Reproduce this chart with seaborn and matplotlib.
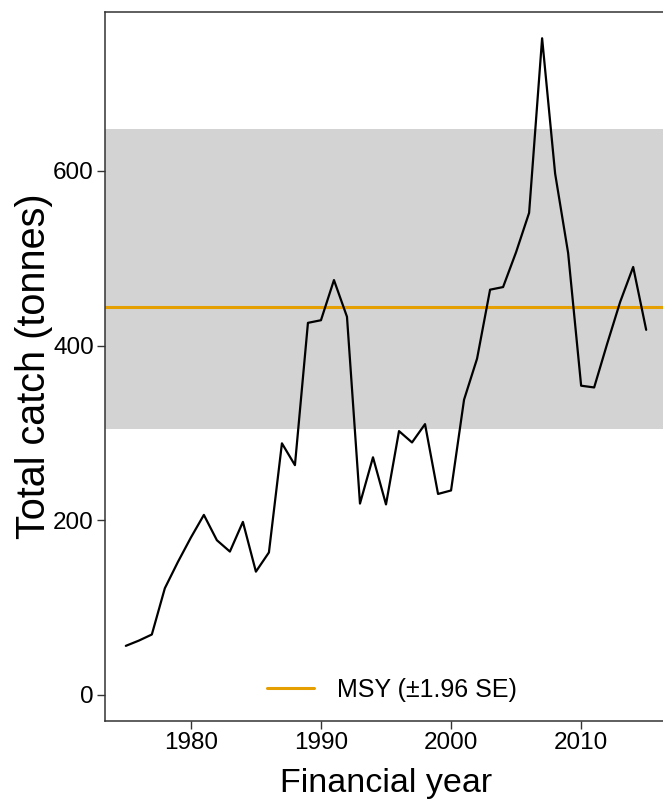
"""Total catch by financial year with MSY (±1.96 SE) band."""

import matplotlib
matplotlib.use("Agg")
import matplotlib.pyplot as plt
import pandas as pd
import seaborn as sns

years = list(range(1975, 2016))
catch = [56, 62, 69, 122, 152, 180, 206, 177, 164, 198,
         141, 163, 288, 263, 426, 429, 475, 433, 219, 272,
         218, 302, 289, 310, 230, 234, 338, 385, 464, 467,
         507, 552, 752, 597, 506, 354, 352, 402, 450, 490,
         418]
msy = 444
msy_lower = 304
msy_upper = 648
x_ticks = [1980, 1990, 2000, 2010]
y_ticks = [0, 200, 400, 600]

df = pd.DataFrame({"Year": years, "Catch": catch})

sns.set_style("white", {"text.color": "black", "axes.labelcolor": "black",
                        "xtick.color": "black", "ytick.color": "black"})
plt.rcParams["font.family"] = ["Liberation Sans", "DejaVu Sans"]

fig = plt.figure(figsize=(6.63, 8.08), dpi=100)
ax = fig.add_axes([105 / 663, 87 / 808, 562 / 663, 709 / 808])

# band + MSY line first, catch line on top
ax.axhspan(msy_lower, msy_upper, color="#d3d3d3", lw=0, zorder=0)
ax.axhline(msy, color="#E69F00", lw=2.2, label="MSY (\u00b11.96 SE)", zorder=1)
sns.lineplot(data=df, x="Year", y="Catch", color="black", lw=1.6, ax=ax, zorder=2)

# R-style 4% padding
span = max(catch)
ax.set_ylim(-0.04 * span, span * 1.04)
ax.set_xlim(min(years) - 0.04 * (max(years) - min(years)),
            max(years) + 0.04 * (max(years) - min(years)))
ax.set_xticks(x_ticks)
ax.set_yticks(y_ticks)

ax.tick_params(axis="both", direction="out", length=6, width=1.0,
               color="#333333", labelcolor="black", labelsize=17.5, pad=2,
               left=True, bottom=True)
for s in ax.spines.values():
    s.set_color("#333333")
    s.set_linewidth(1.1)
ax.spines["right"].set_visible(False)

ax.set_xlabel("Financial year", fontsize=24.5, labelpad=10, color="black")
ax.set_ylabel("Total catch (tonnes)", fontsize=28.5, labelpad=0, color="black")

leg = ax.legend(loc="lower center", bbox_to_anchor=(0.51, -0.005), frameon=False,
                fontsize=18, handlelength=1.9, handletextpad=0.9)
for t in leg.get_texts():
    t.set_color("black")

fig.savefig("out.png", dpi=100)
plt.close(fig)
